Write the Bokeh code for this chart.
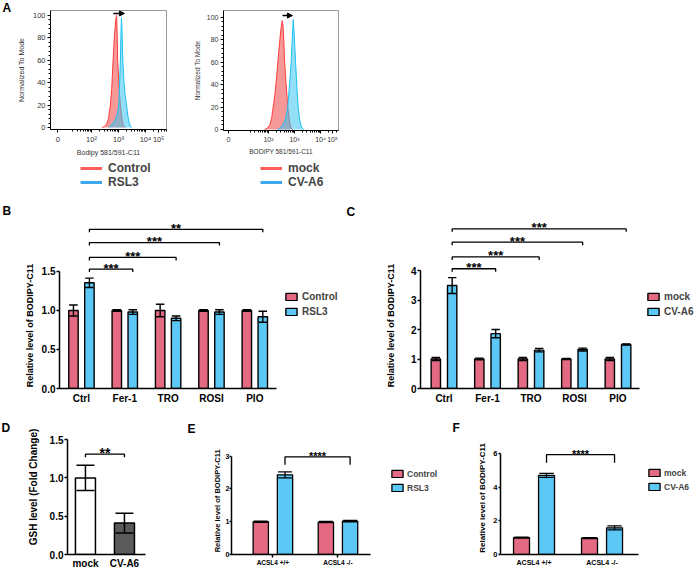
import math
from bokeh.plotting import figure
from bokeh.layouts import row, column
from bokeh.models import (FixedTicker, Legend, LegendItem, Arrow, NormalHead,
                          Spacer, ColumnDataSource, Range1d, NumeralTickFormatter)
from bokeh.embed import file_html
from bokeh.resources import INLINE
from bokeh.core.properties import value

FONT = "Liberation Sans"
PINK = "#e36a82"
CYAN = "#5cc8f5"
DARK = "#5a5a5a"

# ---------------- Panel A data (x: display position in decades, y: % of mode)
a1_control_x = [2.40, 2.48, 2.56, 2.63, 2.70, 2.75, 2.80, 2.85, 2.90, 2.93, 2.95, 2.97, 3.01, 3.04, 3.07, 3.11, 3.15, 3.19, 3.25]
a1_control_y = [0, 1, 3, 8, 20, 35, 60, 82, 96, 100, 85, 60, 42, 30, 20, 11, 5, 1.5, 0]
a1_rsl3_x = [2.65, 2.70, 2.80, 2.90, 2.97, 3.01, 3.04, 3.07, 3.09, 3.11, 3.13, 3.16, 3.20, 3.24, 3.30, 3.35, 3.40, 3.44, 3.50]
a1_rsl3_y = [0, 1.5, 4, 8, 14, 20, 38, 60, 82, 98, 88, 60, 42, 30, 20, 10, 4, 1, 0]
a2_mock_x = [1.85, 1.95, 2.05, 2.12, 2.18, 2.24, 2.30, 2.36, 2.42, 2.48, 2.53, 2.56, 2.59, 2.62, 2.67, 2.71, 2.74, 2.79, 2.83, 2.87, 2.93]
a2_mock_y = [0, 1, 4, 10, 20, 30, 44, 60, 76, 90, 97, 92, 78, 60, 42, 30, 20, 10, 4, 1, 0]
a2_cva6_x = [2.35, 2.43, 2.52, 2.60, 2.68, 2.74, 2.79, 2.84, 2.87, 2.91, 2.95, 2.98, 3.01, 3.04, 3.09, 3.14, 3.19, 3.24, 3.30, 3.36]
a2_cva6_y = [0, 1, 3, 6, 12, 20, 35, 50, 60, 80, 98, 88, 74, 60, 38, 20, 10, 4, 1, 0]
hist_tick_labels = ["0", "10²", "10³", "10⁴", "10⁵"]
hist_y_ticks = [0, 20, 40, 60, 80, 100]

# ---------------- Panel B
b_cats = ["Ctrl", "Fer-1", "TRO", "ROSI", "PIO"]
b_control = [1.00, 1.00, 1.00, 1.00, 1.00]
b_control_err = [0.07, 0.01, 0.08, 0.01, 0.01]
b_rsl3 = [1.355, 0.98, 0.90, 0.98, 0.92]
b_rsl3_err = [0.06, 0.03, 0.03, 0.03, 0.07]
b_sig_to = [1, 2, 3, 4]
b_sig_heights = [1.53, 1.68, 1.87, 2.04]
b_sig_labels = ["***", "***", "***", "**"]

# ---------------- Panel C
c_cats = ["Ctrl", "Fer-1", "TRO", "ROSI", "PIO"]
c_mock = [1.00, 1.00, 1.00, 1.00, 1.00]
c_mock_err = [0.05, 0.03, 0.05, 0.02, 0.05]
c_cva6 = [3.49, 1.86, 1.30, 1.32, 1.49]
c_cva6_err = [0.27, 0.14, 0.06, 0.05, 0.02]
c_sig_to = [1, 2, 3, 4]
c_sig_heights = [4.06, 4.46, 4.96, 5.41]
c_sig_labels = ["***", "***", "***", "***"]

# ---------------- Panel D
d_cats = ["mock", "CV-A6"]
d_vals = [1.00, 0.41]
d_err = [0.165, 0.13]
d_sig_height = 1.31
d_sig_label = "**"

# ---------------- Panel E
e_cats = ["ACSL4 +/+", "ACSL4 -/-"]
e_control = [1.00, 0.99]
e_control_err = [0.02, 0.02]
e_rsl3 = [2.43, 1.02]
e_rsl3_err = [0.09, 0.02]
e_sig_height = 2.98
e_sig_label = "****"

# ---------------- Panel F
f_cats = ["ACSL4 +/+", "ACSL4 -/-"]
f_mock = [1.00, 0.98]
f_mock_err = [0.03, 0.03]
f_cva6 = [4.71, 1.59]
f_cva6_err = [0.12, 0.12]
f_sig_height = 5.95
f_sig_label = "****"

YTITLE = "Relative level of BODIPY-C11"


def base_fig(w, h, left, right, top, bottom, xr, yr):
    p = figure(width=w, height=h, x_range=Range1d(*xr), y_range=Range1d(*yr),
               output_backend="svg", toolbar_location=None,
               min_border_left=left, min_border_right=right,
               min_border_top=top, min_border_bottom=bottom)
    p.grid.visible = False
    p.outline_line_color = None
    p.background_fill_color = "white"
    p.border_fill_color = "white"
    return p


def blank_fig(w, h, bottom=0):
    """Axis-less figure whose frame is w x (h - bottom) px, 1 data unit = 1 px."""
    p = figure(width=w, height=h, x_range=Range1d(0, w), y_range=Range1d(0, h - bottom),
               x_axis_type=None, y_axis_type=None, output_backend="svg",
               toolbar_location=None, min_border_left=0, min_border_right=0,
               min_border_top=0, min_border_bottom=bottom)
    p.grid.visible = False
    p.outline_line_color = None
    return p


def text_strip(w, h, bottom, letter, letter_xy, title=None, title_xy=None, title_size="10px"):
    """Narrow figure holding the panel letter and the y-axis title."""
    p = blank_fig(w, h, bottom)
    p.text(x=[letter_xy[0]], y=[letter_xy[1]], text=[letter], text_font=value(FONT),
           text_font_size="12px", text_font_style="bold", text_align="left",
           text_baseline="top", text_color="black")
    if title:
        p.text(x=[title_xy[0]], y=[title_xy[1]], text=[title], text_font=value(FONT),
               text_font_size=title_size, text_font_style="bold", text_align="center",
               text_baseline="middle", angle=math.pi / 2, text_color="black")
    return p


def legend_strip(w, h, curves, colors, names, loc):
    """Strip under a histogram holding its line legend."""
    p = blank_fig(w, h)
    rs = [p.line(xs, ys, line_color=c, line_width=3, visible=False)
          for (xs, ys), c in zip(curves, colors)]
    leg = Legend(items=[LegendItem(label=n, renderers=[r]) for n, r in zip(names, rs)],
                 location=loc, orientation="vertical", padding=0, margin=0, spacing=0,
                 label_standoff=6, glyph_width=22, glyph_height=12, label_height=12,
                 border_line_color=None, background_fill_alpha=0,
                 label_text_font=FONT, label_text_font_size="12px", label_text_font_style="bold")
    p.add_layout(leg)
    return p


# ---------------- histogram panels
def hist_panel(w, left, right, xr, yr, tick_pos, xs1, ys1, xs2, ys2, xlabel, lab_size,
               tick_size, ylab_standoff, arrow):
    p = base_fig(w, 158, left, right, 10, 28, xr, yr)
    p.outline_line_color = "#9a9a9a"
    p.outline_line_width = 1
    p.varea(x=xs1, y1=0, y2=ys1, fill_color="#f05454", fill_alpha=0.6)
    p.line(xs1, ys1, line_color="#ff3c3c", line_width=1)
    p.varea(x=xs2, y1=0, y2=ys2, fill_color="#38c4f0", fill_alpha=0.55)
    p.line(xs2, ys2, line_color="#1ec0f2", line_width=1)
    p.add_layout(Arrow(end=NormalHead(size=5, fill_color="black", line_color="black"),
                       x_start=arrow[0], x_end=arrow[1], y_start=arrow[2], y_end=arrow[2],
                       line_color="black", line_width=1.5))
    minors = [n + math.log10(k) for n in range(1, 5) for k in range(2, 10)]
    minors = [m for m in minors if xr[0] < m < xr[1]]
    xa = p.xaxis[0]
    xa.ticker = FixedTicker(ticks=tick_pos, minor_ticks=minors)
    xa.major_label_overrides = {t: l for t, l in zip(tick_pos, hist_tick_labels)}
    ya = p.yaxis[0]
    ya.ticker = FixedTicker(ticks=hist_y_ticks, minor_ticks=[v for v in range(0, 101, 4) if v % 20])
    for ax in (xa, ya):
        ax.axis_line_color = "black"
        ax.axis_line_width = 1
        ax.major_tick_out = 3
        ax.major_tick_in = 0
        ax.minor_tick_out = 2
        ax.minor_tick_in = 0
        ax.major_label_text_font = FONT
        ax.major_label_text_font_size = tick_size
        ax.major_label_text_color = "#333333"
        ax.major_label_standoff = 2
        ax.axis_label_text_font = FONT
        ax.axis_label_text_font_style = "normal"
        ax.axis_label_text_font_size = lab_size
        ax.axis_label_text_color = "#333333"
    xa.axis_label = xlabel
    xa.axis_label_standoff = 2
    ya.axis_label = "Normalized To Mode"
    ya.axis_label_standoff = ylab_standoff
    return p


HIST_LEG_COLORS = ["#ff5c5c", "#3da8ee"]

# Row 1: the legend strips share the left/right borders of the histogram above them
tA = text_strip(14, 200, 0, "A", (2, 199.5))
pA1 = hist_panel(170, 36, 18, (0.48, 4.78), (-1.77, 104.4), [0.75, 2, 3, 4, 4.49],
                 a1_control_x, a1_control_y, a1_rsl3_x, a1_rsl3_y,
                 "Bodipy 581/591-C11", "7px", "7.5px", 5, (2.81, 3.22, 101.8))
lA1 = legend_strip(170, 42, [(a1_control_x, a1_control_y), (a1_rsl3_x, a1_rsl3_y)],
                   HIST_LEG_COLORS, ["Control", "RSL3"], (30, 11))
pA2 = hist_panel(166, 39, 12, (0.27, 4.69), (-0.9, 106), [0.46, 2, 3, 4, 4.46],
                 a2_mock_x, a2_mock_y, a2_cva6_x, a2_cva6_y,
                 "BODIPY 581/591-C11", "6.5px", "7px", 3, (2.54, 2.92, 101.5))
lA2 = legend_strip(166, 42, [(a2_mock_x, a2_mock_y), (a2_cva6_x, a2_cva6_y)],
                   HIST_LEG_COLORS, ["mock", "CV-A6"], (37, 11))


# ---------------- bar panels
def style_bar_axes(p, cats, xbound, yticks, fmt, ytick_size, xlab_size, x_tick_out=0,
                   x_standoff=4, y_tick_out=3, y_standoff=1):
    xa = p.xaxis[0]
    ya = p.yaxis[0]
    xa.ticker = FixedTicker(ticks=list(range(len(cats))))
    xa.major_label_overrides = {i: c for i, c in enumerate(cats)}
    xa.bounds = xbound
    xa.major_tick_out = x_tick_out
    xa.major_label_text_font_size = xlab_size
    xa.major_label_standoff = x_standoff
    ya.ticker = FixedTicker(ticks=yticks)
    ya.bounds = (yticks[0], yticks[-1])
    ya.formatter = NumeralTickFormatter(format=fmt)
    ya.major_tick_out = y_tick_out
    ya.major_label_text_font_size = ytick_size
    ya.major_label_standoff = y_standoff
    for ax in (xa, ya):
        ax.major_tick_in = 0
        ax.minor_tick_out = 0
        ax.minor_tick_in = 0
        ax.axis_line_width = 1.5
        ax.axis_line_color = "black"
        ax.major_tick_line_width = 1.5
        ax.major_label_text_font = FONT
        ax.major_label_text_font_style = "bold"
        ax.major_label_text_color = "black"


def draw_series(p, vals, errs, offset, bw, color, lw=1.4):
    xs = [i + offset for i in range(len(vals))]
    src = ColumnDataSource(dict(
        x=xs, top=vals,
        lo=[v - e for v, e in zip(vals, errs)], hi=[v + e for v, e in zip(vals, errs)],
        cl=[x - 0.45 * bw for x in xs], cr=[x + 0.45 * bw for x in xs],
        color=color if isinstance(color, list) else [color] * len(vals)))
    r = p.vbar(x="x", top="top", bottom=0, width=bw, fill_color="color", line_color="black",
               line_width=lw, source=src)
    p.segment(x0="x", y0="lo", x1="x", y1="hi", line_color="black", line_width=lw, source=src)
    p.segment(x0="cl", y0="hi", x1="cr", y1="hi", line_color="black", line_width=lw, source=src)
    p.segment(x0="cl", y0="lo", x1="cr", y1="lo", line_color="black", line_width=lw, source=src)
    return r


def draw_brackets(p, x0s, x1s, ys, tick, labels, font_size, gap):
    p.multi_line(xs=[[a, a, b, b] for a, b in zip(x0s, x1s)],
                 ys=[[y - tick, y, y, y - tick] for y in ys],
                 line_color="black", line_width=1.3)
    p.text(x=[(a + b) / 2 for a, b in zip(x0s, x1s)], y=[y + gap for y in ys], text=labels,
           text_align="center", text_baseline="alphabetic", text_font=value(FONT),
           text_font_size=font_size, text_font_style="bold", text_color="black")


def bar_legend(p, items, xy, font_size, gw, gh, spacing, standoff):
    leg = Legend(items=[LegendItem(label=l, renderers=[r]) for l, r in items],
                 location=xy, orientation="vertical", padding=0, margin=0, spacing=spacing,
                 label_standoff=standoff, glyph_width=gw, glyph_height=gh, label_height=gh,
                 border_line_color=None, background_fill_alpha=0,
                 label_text_font=FONT, label_text_font_size=font_size, label_text_font_style="bold")
    p.add_layout(leg)


# Row 2: every figure has top border 0 and bottom border 24 (frames 200..388 px)
tB = text_strip(38, 212, 24, "B", (2, 184.5), YTITLE, (29, 63), "9px")
pB = base_fig(306, 212, 20, 0, 0, 24, (-0.506, 6.069), (0, 2.41))
off, bw = 0.184, 0.218
rb1 = draw_series(pB, b_control, b_control_err, -off, bw, PINK)
rb2 = draw_series(pB, b_rsl3, b_rsl3_err, off, bw, CYAN)
draw_brackets(pB, [off] * len(b_sig_to), [k + off for k in b_sig_to], b_sig_heights, 0.038,
              b_sig_labels, "13px", 1.0 / 78)
style_bar_axes(pB, b_cats, (-0.506, 4.506), [0, 0.5, 1.0, 1.5], "0.0", "10px", "10px")
bar_legend(pB, [("Control", rb1), ("RSL3", rb2)], (225, 71), "10px", 14, 9, 4, 4)

tC = text_strip(54, 212, 24, "C", (2, 183.5), YTITLE, (46, 63), "9px")
pC = base_fig(298, 212, 22, 0, 0, 24, (-0.540, 5.805), (0, 6.373))
off, bw = 0.188, 0.215
rc1 = draw_series(pC, c_mock, c_mock_err, -off, bw, PINK)
rc2 = draw_series(pC, c_cva6, c_cva6_err, off, bw, CYAN)
draw_brackets(pC, [off] * len(c_sig_to), [k + off for k in c_sig_to], c_sig_heights, 0.1,
              c_sig_labels, "13px", 1.0 / 29.5)
style_bar_axes(pC, c_cats, (-0.540, 4.494), [0, 1, 2, 3, 4], "0", "10px", "10px")
bar_legend(pC, [("mock", rc1), ("CV-A6", rc2)], (226, 71), "10px", 14, 9, 4, 4)

# Row 3: every figure has top border 0 and bottom border 16 (frames 412..555 px)
tD = text_strip(45, 159, 16, "D", (1, 134.5), "GSH level (Fold Change)", (33, 68), "10px")
pD = base_fig(135, 159, 22, 0, 0, 16, (-0.46, 2.437), (0, 1.854))
bw = 0.513
draw_series(pD, d_vals, d_err, 0.0, bw, ["white", DARK], lw=1.5)
draw_brackets(pD, [0], [1], [d_sig_height], 0.04, [d_sig_label], "14px", 1.5 / 77.1)
style_bar_axes(pD, d_cats, (-0.46, 1.54), [0, 0.5, 1.0, 1.5], "0.0", "10px", "10px",
               x_standoff=3)

tE = text_strip(42, 159, 16, "E", (7, 133.5), YTITLE, (37, 54), "7.5px")
pE = base_fig(220, 159, 6, 0, 0, 16, (-0.636, 2.606), (0, 4.333))
off, bw = 0.186, 0.235
re1 = draw_series(pE, e_control, e_control_err, -off, bw, PINK, lw=1.3)
re2 = draw_series(pE, e_rsl3, e_rsl3_err, off, bw, CYAN, lw=1.3)
draw_brackets(pE, [off], [1 + off], [e_sig_height], 0.24, [e_sig_label], "11px", 0.5 / 33)
style_bar_axes(pE, e_cats, (-0.636, 1.5), [0, 1, 2, 3], "0", "7px", "6.5px", x_tick_out=3,
               x_standoff=1, y_tick_out=2, y_standoff=0)
bar_legend(pE, [("Control", re1), ("RSL3", re2)], (159, 61.5), "8.5px", 14, 9, 4, 3)

tF = text_strip(48, 159, 16, "F", (10, 134.5), YTITLE, (40, 57), "8px")
pF = base_fig(206, 159, 10, 0, 0, 16, (-0.493, 2.389), (0, 8.46))
off, bw = 0.184, 0.235
rf1 = draw_series(pF, f_mock, f_mock_err, -off, bw, PINK, lw=1.3)
rf2 = draw_series(pF, f_cva6, f_cva6_err, off, bw, CYAN, lw=1.3)
draw_brackets(pF, [off], [1 + off], [f_sig_height], 0.49, [f_sig_label], "11px", 0.5 / 16.9)
style_bar_axes(pF, f_cats, (-0.493, 1.537), [0, 2, 4, 6], "0", "7.5px", "7px", x_standoff=4,
               y_tick_out=2, y_standoff=1)
bar_legend(pF, [("mock", rf1), ("CV-A6", rf2)], (147, 62.5), "8.5px", 14, 9, 4, 3)

layout = column(
    row(tA, column(pA1, lA1), column(pA2, lA2), Spacer(width=346, height=200)),
    row(tB, pB, tC, pC),
    row(tD, pD, tE, pE, tF, pF),
)

open("out.html", "w").write(file_html(layout, INLINE))
